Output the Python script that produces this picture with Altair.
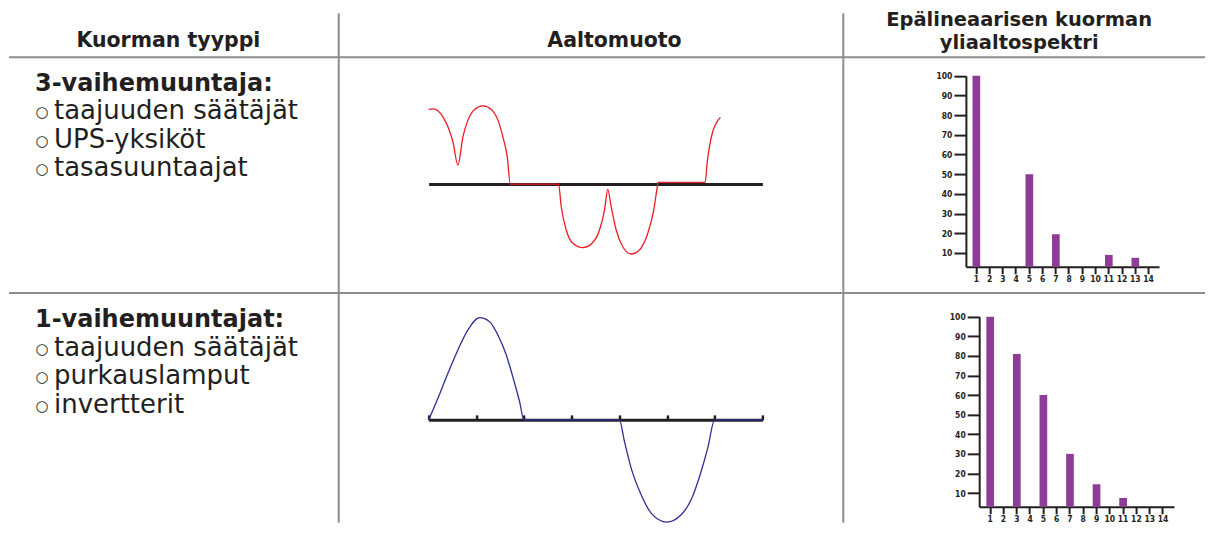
import altair as alt
import pandas as pd

# ---------------- data ----------------
headers = ["Kuorman tyyppi", "Aaltomuoto", "Epälineaarisen kuorman", "yliaaltospektri"]

bullet = "○"
load3_title = "3-vaihemuuntaja:"
load3_items = ["taajuuden säätäjät", "UPS-yksiköt", "tasasuuntaajat"]
load1_title = "1-vaihemuuntajat:"
load1_items = ["taajuuden säätäjät", "purkauslamput", "invertterit"]

# 3-phase rectifier current (time in ms, current in per unit)
wave3_t = [0.0, 0.225, 0.487, 0.749, 1.011, 1.273, 1.535, 1.797, 2.059, 2.41, 2.845,
           3.285, 3.631, 3.893, 4.123, 4.281, 6.811, 6.953, 7.215, 7.561, 8.085,
           8.525, 8.96, 9.222, 9.394, 9.573, 9.835, 10.18, 10.62, 11.055, 11.49,
           11.805, 12.014, 12.03, 14.498, 14.602, 14.723, 14.896, 15.074, 15.299]
wave3_i = [0.934, 0.941, 0.916, 0.841, 0.716, 0.529, 0.2375, 0.591, 0.8, 0.934, 0.979,
           0.934, 0.8, 0.591, 0.341, 0.0, 0.0, -0.284, -0.575, -0.741, -0.796,
           -0.75, -0.575, -0.325, -0.066, -0.284, -0.575, -0.784, -0.875, -0.825, -0.616,
           -0.325, 0.0, 0.02, 0.02, 0.259, 0.466, 0.654, 0.759, 0.834]

# 1-phase load current
wave1_t = [0.0, 0.487, 1.011, 1.535, 2.059, 2.672, 3.196, 3.631, 4.071, 4.506, 4.768,
           5.0, 10.0, 10.27, 10.62, 11.144, 11.668, 12.486, 13.24, 13.764, 14.288,
           14.634, 15.0, 17.5]
wave1_i = [0.0, 0.217, 0.467, 0.70, 0.90, 1.023, 0.983, 0.85, 0.65, 0.367, 0.183,
           0.0, 0.0, -0.217, -0.483, -0.75, -0.933, -1.023, -0.95, -0.80, -0.517,
           -0.283, 0.0, 0.0]
wave_ticks = [0, 2.5, 5, 7.5, 10, 12.5, 15, 17.5]

harmonics = list(range(1, 15))
spec3 = [100, 0, 0, 0, 50, 0, 19.5, 0, 0, 0, 9, 0, 7.5, 0]
spec1 = [100, 0, 81, 0, 60, 0, 30, 0, 14.5, 0, 7.5, 0, 0, 0]
y_ticks = [10, 20, 30, 40, 50, 60, 70, 80, 90, 100]
y_floor = 3  # lowest value shown on the spectrum axes

# ---------------- style ----------------
FONT = "DejaVu Sans"
LABEL_FONT = "Liberation Sans Narrow, DejaVu Sans Condensed, Liberation Sans"
INK = "#231f20"
GRID = "#8c8c8c"
GW = 2
RED = "#ed1c24"
BLUE = "#2e3192"
PURPLE = "#8e3d96"

W1, W2, W3 = 331, 505, 362
H0, H1, H2 = 49, 236, 230

one = pd.DataFrame({"k": [0]})


def vline(x, y1, y2):
    return alt.Chart(one).mark_rule(color=GRID, strokeWidth=GW).encode(
        x=alt.value(x), y=alt.value(y1), y2=alt.value(y2))


def hline(y, x1, x2):
    return alt.Chart(one).mark_rule(color=GRID, strokeWidth=GW).encode(
        y=alt.value(y), x=alt.value(x1), x2=alt.value(x2))


def header_text(txt, x, y, size=20.5):
    return alt.Chart(pd.DataFrame({"t": [txt]})).mark_text(
        font=FONT, fontSize=size, fontWeight="bold", color=INK,
        align="center", baseline="alphabetic").encode(
        text="t:N", x=alt.value(x), y=alt.value(y))


def load_cell(title, items, y_title, y_first, y_last, h, top_rule):
    t = alt.Chart(pd.DataFrame({"t": [title]})).mark_text(
        font=FONT, fontSize=24, fontWeight="bold", color=INK,
        align="left", baseline="alphabetic").encode(
        text="t:N", x=alt.value(27), y=alt.value(y_title))
    df = pd.DataFrame({"t": items, "b": [bullet] * len(items), "k": list(range(len(items)))})
    yenc = alt.Y("k:Q", scale=alt.Scale(domain=[0, len(items) - 1], range=[y_first, y_last]),
                 axis=None)
    bl = alt.Chart(df).mark_text(
        font=FONT, fontSize=15, color=INK, align="left", baseline="alphabetic", dy=-2).encode(
        text="b:N", x=alt.value(27.5), y=yenc)
    it = alt.Chart(df).mark_text(
        font=FONT, fontSize=26, color=INK, align="left", baseline="alphabetic").encode(
        text="t:N", x=alt.value(46), y=yenc)
    layers = [t, bl, it, vline(W1, 0, h)]
    if top_rule:
        layers.append(hline(0, 1, W1))
    return alt.layer(*layers).properties(width=W1, height=h)


def wave_cell(ts, vs, color, zero_y, unit, h, ticks):
    df = pd.DataFrame({"t": ts, "i": vs})
    if ticks:
        ax = alt.Axis(orient="top", offset=-zero_y, domainColor=INK, domainWidth=3,
                      ticks=True, tickSize=5, tickWidth=2.5, tickColor=INK,
                      values=wave_ticks, labels=False, grid=False)
    else:
        ax = alt.Axis(orient="top", offset=-zero_y, domainColor=INK, domainWidth=3,
                      ticks=False, labels=False, grid=False)
    line = alt.Chart(df).mark_line(color=color, strokeWidth=1.3, interpolate="monotone").encode(
        x=alt.X("t:Q", title=None, scale=alt.Scale(domain=[0, 17.5], range=[90, 424]), axis=ax),
        y=alt.Y("i:Q", title=None,
                scale=alt.Scale(domain=[-1, 1], range=[zero_y + unit, zero_y - unit]),
                axis=None))
    return alt.layer(line, vline(W2, 0, h), hline(0, 0, W2)).properties(width=W2, height=h)


def spec_cell(vals, x0, x1, y_base, y_top, pad_outer, h):
    df = pd.DataFrame({"h": harmonics, "v": vals})
    bars = alt.Chart(df).transform_filter("datum.v > 0").mark_bar(color=PURPLE).encode(
        x=alt.X("h:O", title=None,
                scale=alt.Scale(domain=harmonics, range=[x0, x1], paddingInner=0.42,
                                paddingOuter=pad_outer),
                axis=alt.Axis(orient="bottom", offset=-(h - y_base), labelAngle=0,
                              domainColor=INK, domainWidth=2, tickColor=INK, tickWidth=2,
                              tickSize=7, labelFont=LABEL_FONT, labelFontSize=8.5,
                              labelFontWeight="bold", labelColor=INK, labelPadding=1,
                              grid=False)),
        y=alt.Y("v:Q", title=None,
                scale=alt.Scale(domain=[y_floor, 100], range=[y_base, y_top], zero=False),
                axis=alt.Axis(orient="left", offset=-x0, values=y_ticks, domainColor=INK,
                              domainWidth=2, tickColor=INK, tickWidth=2, tickSize=12,
                              labelFont=LABEL_FONT, labelFontSize=8.5, labelFontWeight="bold",
                              labelColor=INK, labelPadding=2, grid=False)),
        y2=alt.datum(y_floor))
    return alt.layer(bars, hline(0, 0, W3)).properties(width=W3, height=h)


h1 = alt.layer(header_text(headers[0], 160.5, 39), vline(W1, 5, H0)).properties(width=W1, height=H0)
h2 = alt.layer(header_text(headers[1], 276, 39), vline(W2, 5, H0)).properties(width=W2, height=H0)
h3 = alt.layer(header_text(headers[2], 176, 18, 19.5),
               header_text(headers[3], 176, 41, 19.5)).properties(width=W3, height=H0)

c11 = load_cell(load3_title, load3_items, 33.5, 62, 119, H1, True)
c12 = wave_cell(wave3_t, wave3_i, RED, 127, 80, H1, False)
c13 = spec_cell(spec3, 122.7, 316, 209.7, 18.7, 0.5, H1)

c21 = load_cell(load1_title, load1_items, 34.5, 63, 120, H2, True)
c22 = wave_cell(wave1_t, wave1_i, BLUE, 127, 100, H2, True)
c23 = spec_cell(spec1, 136, 331, 214, 23.7, 0.54, H2)

chart = alt.concat(h1, h2, h3, c11, c12, c13, c21, c22, c23, columns=3, spacing=0,
                   bounds="flush", padding=0).configure_view(stroke=None)

chart.save("out.html", embed_options={"renderer": "svg", "actions": False})
